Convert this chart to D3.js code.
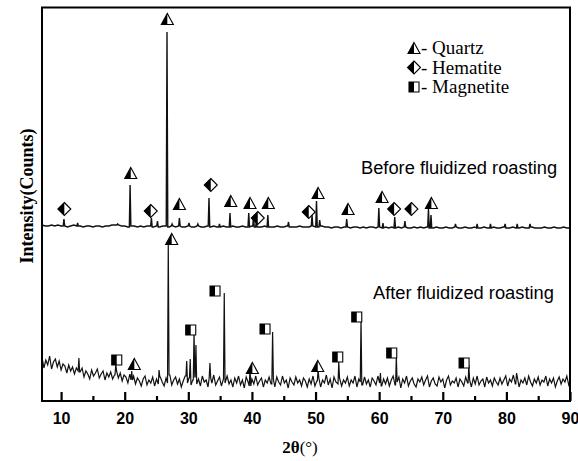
<!DOCTYPE html>
<html>
<head>
<meta charset="utf-8">
<script src="https://cdn.jsdelivr.net/npm/d3@7"></script>
<style>
body { margin:0; background:#fff; }
</style>
</head>
<body>
<div id="chart"></div>
<script>
// 2theta grid for the sample before roasting (start, step in degrees)
const beforeStart = 7.0, beforeStep = 0.5;
const beforeCounts = [
  176,175,175,176,175,176,175,175,174,175,176,175,
  175,174,175,175,174,175,175,174,175,175,176,176,
  176,175,175,174,175,175,174,175,174,175,175,174,
  175,174,175,175,174,175,174,175,174,174,175,174,
  174,175,174,174,175,174,175,174,174,175,174,174,
  175,174,174,175,174,174,175,174,174,174,175,174,
  174,174,175,174,174,175,174,174,174,175,174,174,
  174,175,174,174,175,174,174,173,174,174,173,174,
  174,173,174,174,173,174,173,174,174,173,174,173,
  174,173,174,173,174,173,174,173,173,174,173,174,
  173,174,173,173,174,173,173,174,173,173,174,173,
  173,174,173,173,174,173,173,174,173,173,174,173,
  173,174,173,173,174,173,173,174,173,173,174,173,
  173,173,174,173,173,174,173,173,174,173,173
];
// [2theta, peak top]
const beforePeaks = [
  [10.45,182],[12.6,178],[18.9,177],[20.85,216],[24.2,183],[25.15,180],
  [26.65,369],[27.45,177],[28.6,183],[30.1,178],[31.5,177],[33.25,203],
  [34.9,177],[36.55,188],[39.5,188],[40.25,184],[40.7,180],[42.5,186],
  [45.75,179],[49.45,186],[50.15,200],[50.65,181],[54.9,182],[59.95,193],
  [60.6,178],[62.45,184],[64.05,180],[67.75,192],[68.15,186],[72.0,177],
  [75.4,177],[77.5,177],[79.8,177],[81.7,177],[83.7,177]
];

// sample after fluidized roasting
const afterStart = 7.0, afterStep = 0.3;
const afterCounts = [
  44,33,41,36,45,32,39,42,34,40,31,37,35,28,36,30,34,27,33,30,
  29,33,24,30,27,22,31,25,28,32,23,27,30,21,28,24,29,22,26,30,
  23,28,20,26,24,18,27,21,25,17,23,20,15,22,25,16,21,18,24,15,
  22,17,24,19,15,23,18,26,16,21,24,17,22,14,20,25,18,23,16,21,
  24,17,22,15,25,19,21,14,23,18,26,16,20,24,15,22,18,25,17,21,
  14,23,18,25,16,21,13,24,19,15,22,17,25,16,20,23,14,21,18,24,
  17,22,14,24,19,16,25,18,21,13,23,19,16,24,18,21,15,23,20,14,
  22,17,25,15,20,23,14,21,18,26,16,22,13,24,19,17,23,15,21,18,
  24,15,21,18,25,14,22,19,16,24,17,21,14,23,20,16,25,18,15,22,
  17,23,15,21,25,16,19,24,13,22,18,25,15,20,23,17,14,22,19,24,
  16,21,25,14,20,23,17,15,24,19,22,13,21,25,16,20,18,23,14,22,
  19,15,24,18,21,14,23,17,25,16,20,22,14,24,18,21,15,23,19,16,
  23,17,21,25,15,22,19,26,17,24,14,21,18,23,16,25,19,15,22,18,
  24,16,21,19,25,15,22,18,23,14,20,24,17,22,19,25,16,21
];
const afterPeaks = [
  [12.8,43],[18.6,37],[21.1,30],[25.4,31],[26.85,158],[29.75,40],[30.3,42],
  [30.9,69],[31.2,56],[33.4,38],[35.65,108],[39.7,33],[43.25,69],[50.4,31],
  [53.65,39],[57.15,83],[60.2,28],[62.7,44],[74.1,36],[81.6,28]
];

// phase markers [2theta, intensity]
const beforeQuartz = [[20.95,228],[26.7,382],[28.6,197],[36.67,200],[39.7,198],
  [42.58,198],[50.4,208],[55.11,192],[60.46,204],[68.21,198]];
const beforeHematite = [[10.51,192],[24.09,190],[33.53,216],[40.92,183],
  [48.93,189],[62.35,192],[65.07,192]];
const afterQuartz = [[21.51,37],[27.39,162],[40.07,33],[50.35,35]];
const afterMagnetite = [[18.75,41],[30.38,71],[34.2,110],[42.06,72],
  [53.49,44],[56.48,84],[61.98,48],[73.35,38]];

const xTicks = [10,20,30,40,50,60,70,80,90];
const xMinor = [15,25,35,45,55,65,75,85];
const legendItems = ['Quartz','Hematite','Magnetite'];

const W = 578, H = 461;
const svg = d3.select('#chart').append('svg').attr('width',W).attr('height',H);

const x = d3.scaleLinear().domain([7,90]).range([42,570]);
const y = d3.scaleLinear().domain([0,394]).range([401,7]);

svg.append('clipPath').attr('id','clip')
  .append('rect').attr('x',42).attr('y',7.5).attr('width',528).attr('height',393.5);

function buildCurve(start, step, counts, peaks) {
  const pts = counts.map((c,i)=>[start+i*step, c]);
  const near = t => pts[Math.max(0,Math.min(pts.length-1,Math.round((t-start)/step)))][1];
  const kept = pts.filter(p => !peaks.some(k => Math.abs(p[0]-k[0]) < 0.15));
  peaks.forEach(k => {
    kept.push([k[0]-0.12, near(k[0]-0.12)], [k[0],k[1]], [k[0]+0.12, near(k[0]+0.12)]);
  });
  return kept.sort((a,b)=>a[0]-b[0]);
}

const line = d3.line().x(d=>x(d[0])).y(d=>y(d[1]));
const plot = svg.append('g').attr('clip-path','url(#clip)');
plot.append('path')
  .datum(buildCurve(beforeStart, beforeStep, beforeCounts, beforePeaks))
  .attr('d',line).attr('fill','none').attr('stroke','#111').attr('stroke-width',1.4);
plot.append('path')
  .datum(buildCurve(afterStart, afterStep, afterCounts, afterPeaks))
  .attr('d',line).attr('fill','none').attr('stroke','#111').attr('stroke-width',1.2);

// marker shapes: outline + left half filled
const shapes = {
  q: {full:'M0,-5.5L6,5.5L-6,5.5Z', half:'M0,-5.5L-6,5.5L0,5.5Z'},
  h: {full:'M0,-6.5L6.5,0L0,6.5L-6.5,0Z', half:'M0,-6.5L-6.5,0L0,6.5Z'},
  m: {full:'M-5,-5H5V5H-5Z', half:'M-5,-5H0V5H-5Z'}
};
function marker(g, kind, px, py) {
  const m = g.append('g').attr('transform',`translate(${px},${py})`);
  m.append('path').attr('d',shapes[kind].full).attr('fill','#fff').attr('stroke','#000').attr('stroke-width',1.1);
  m.append('path').attr('d',shapes[kind].half).attr('fill','#000');
}
const mk = svg.append('g');
beforeQuartz.forEach(d=>marker(mk,'q',x(d[0]),y(d[1])));
beforeHematite.forEach(d=>marker(mk,'h',x(d[0]),y(d[1])));
afterQuartz.forEach(d=>marker(mk,'q',x(d[0]),y(d[1])));
afterMagnetite.forEach(d=>marker(mk,'m',x(d[0]),y(d[1])));

// frame
svg.append('rect').attr('x',42).attr('y',7.5).attr('width',528).attr('height',393.5)
  .attr('fill','none').attr('stroke','#000').attr('stroke-width',2);

// x axis, ticks inside
const ax = svg.append('g').attr('transform','translate(0,401)')
  .call(d3.axisBottom(x).tickValues(xTicks).tickSize(-9).tickSizeOuter(0).tickPadding(11.6).tickFormat(d3.format('d')));
ax.select('.domain').remove();
ax.selectAll('line').attr('stroke-width',2.2);
ax.selectAll('text').attr('font-family','Liberation Sans, Arial, sans-serif')
  .attr('font-weight','bold').attr('font-size',16).attr('fill','#000');
const axm = svg.append('g').attr('transform','translate(0,401)')
  .call(d3.axisBottom(x).tickValues(xMinor).tickSize(-5).tickSizeOuter(0).tickFormat(''));
axm.select('.domain').remove();
axm.selectAll('line').attr('stroke-width',2.2);

// axis titles
const xt = svg.append('text').attr('x',300).attr('y',453).attr('text-anchor','middle')
  .attr('font-family','Liberation Serif, Times New Roman, serif').attr('font-size',17);
xt.append('tspan').attr('font-weight','bold').text('2θ');
xt.append('tspan').text('(°)');
svg.append('text').attr('transform','translate(33,196) rotate(-90)')
  .attr('text-anchor','middle').attr('font-family','Liberation Serif, Times New Roman, serif')
  .attr('font-weight','bold').attr('font-size',18).text('Intensity(Counts)');

// annotations
svg.append('text').attr('x',361).attr('y',174).attr('font-family','Liberation Sans, Arial, sans-serif')
  .attr('font-size',18.3).text('Before fluidized roasting');
svg.append('text').attr('x',373).attr('y',299).attr('font-family','Liberation Sans, Arial, sans-serif')
  .attr('font-size',18.3).text('After fluidized roasting');

// legend
const lg = svg.append('g');
const legendKinds = ['q','h','m'];
legendItems.forEach((name,i)=>{
  const cy = 48 + i*19.5;
  marker(lg, legendKinds[i], 414, cy);
  lg.append('text').attr('x',421).attr('y',cy+6)
    .attr('font-family','Liberation Serif, Times New Roman, serif').attr('font-size',19)
    .text('- ' + name);
});
</script>
</body>
</html>
